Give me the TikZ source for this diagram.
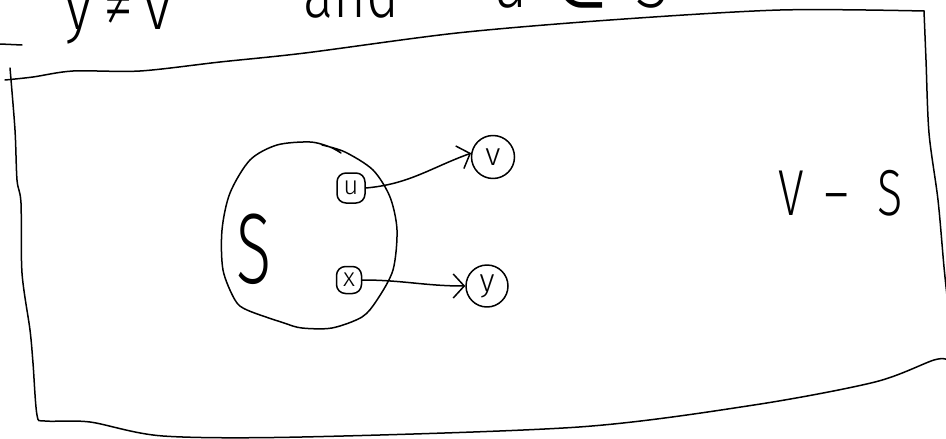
\documentclass[tikz,border=0pt]{standalone}
\usepackage{fontspec}
\newfontfamily\handfont{Fira Sans Light}
\newfontfamily\symbfont{DejaVu Sans}
\usetikzlibrary{arrows.meta}

\begin{document}
\begin{tikzpicture}[
  x=1pt, y=-1pt,
  pen/.style={line width=1.5pt, line cap=round, line join=round},
  vert/.style={draw, pen, inner sep=0pt},
  inbox/.style={vert, rounded corners=9pt, minimum width=28pt, minimum height=30pt,
    font=\handfont\fontsize{26}{26}\selectfont},
  outcircle/.style={vert, circle, minimum size=43pt,
    font=\handfont\fontsize{32}{32}\selectfont},
  hand/.style={inner sep=0pt, anchor=base west, font=\handfont\fontsize{72}{72}\selectfont},
  >={Straight Barb[length=11pt,width=24pt]}]
\useasboundingbox (0,0) rectangle (946,439);

% text cut off at the top
\node[hand] (cond1) at (64,29) {\scalebox{0.85}[1]{y\,≠\,v}};
\node[hand] (cond2) at (303,17) {\scalebox{0.78}[1]{and}};
\node[hand] (cond3) at (492,7) {\scalebox{0.85}[1]{u \,{\symbfont ∈}\, S}};
\draw[pen] (0,44) -- (22,45);

% the outer box (V)
\draw[pen] plot[smooth] coordinates {(5,80) (33,77) (73,71) (140,71) (220,62) (305,53)
  (457,33) (610,20) (780,10) (924,11)};
\draw[pen] plot[smooth] coordinates {(924,11) (926,60) (929,133) (938,200) (944,267) (948,305)};
\draw[pen] plot[smooth] coordinates {(10,68) (15,130) (17,180) (21,203) (22,273) (30,330)
  (33,363) (37,415) (45,421) (90,422) (163,436) (302,437) (579,427) (754,405)
  (875,382) (934,360) (948,360)};
\node[hand, font=\handfont\fontsize{65}{65}\selectfont] (rest) at (778,215)
  {\scalebox{0.72}[1]{V\, –\,\, S}};

% the set S
\draw[pen] plot[smooth] coordinates {(322,145) (345,152) (373,170) (390,197) (397,230)
  (393,270) (377,300) (362,317) (332,328) (302,328) (284,323) (247,310) (235,300)
  (223,270) (222,230) (230,193) (250,160) (277,145) (310,142) (330,147) (341,153)};
\node[hand, font=\handfont\fontsize{100}{100}\selectfont] (setname) at (236,283)
  {\scalebox{0.65}[1]{S}};

% vertices and edges
\node[inbox] (u) at (351,188) {u};
\node[inbox, minimum width=25pt, minimum height=27pt] (x) at (349,280) {x};
\node[outcircle] (v) at (493,157) {v};
\node[outcircle, minimum size=42pt] (y) at (487,286) {y};
\draw[pen,->] (u.east) to[out=5,in=200] (v.170);
\draw[pen,->] (x.east) to[out=0,in=180] (y.west);
\end{tikzpicture}
\end{document}
